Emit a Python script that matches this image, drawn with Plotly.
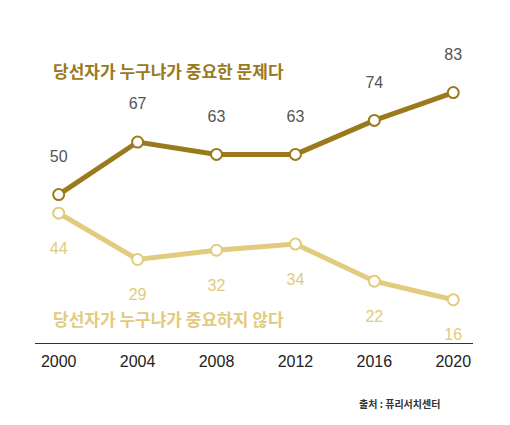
import plotly.graph_objects as go

years = [2000, 2004, 2008, 2012, 2016, 2020]
matters = [50, 67, 63, 63, 74, 83]
not_matters = [44, 29, 32, 34, 22, 16]

dark = "#9a7a1c"
light = "#e2cb7c"
font = "Noto Sans CJK KR"
numfont = "Liberation Sans"

fig = go.Figure()
fig.add_trace(go.Scatter(
    x=years, y=not_matters, mode="lines+markers+text",
    line=dict(color=light, width=5),
    marker=dict(size=11, color="white", line=dict(color=light, width=2)),
    text=["<br>" + str(v) for v in not_matters], textposition="bottom center",
    textfont=dict(color=light, size=16, family=numfont), cliponaxis=False))
fig.add_trace(go.Scatter(
    x=years, y=matters, mode="lines+markers+text",
    line=dict(color=dark, width=5),
    marker=dict(size=11, color="white", line=dict(color=dark, width=2)),
    text=[str(v) + "<br>" for v in matters], textposition="top center",
    textfont=dict(color="#555555", size=16, family=numfont), cliponaxis=False))

fig.add_annotation(x=1999.6, y=90, xanchor="left", yanchor="middle", showarrow=False,
                   text="<b>당선자가 누구냐가 중요한 문제다</b>",
                   font=dict(color=dark, size=17, family=font))
fig.add_annotation(x=1999.6, y=10, xanchor="left", yanchor="middle", showarrow=False,
                   text="<b>당선자가 누구냐가 중요하지 않다</b>",
                   font=dict(color=light, size=17, family=font))
fig.add_annotation(x=0.93, xref="paper", y=-0.2, yref="paper", xanchor="right",
                   yanchor="middle", showarrow=False,
                   text="<b>출처 : 퓨리서치센터</b>",
                   font=dict(color="#333333", size=10, family=font))

fig.update_layout(
    width=510, height=425, showlegend=False,
    paper_bgcolor="white", plot_bgcolor="white",
    margin=dict(l=27, r=45, t=32, b=90),
    xaxis=dict(range=[1998.8, 2021], tickvals=years, showgrid=False, zeroline=False,
               showline=True, linecolor="#333333", linewidth=1,
               ticks="outside", ticklen=4, tickcolor="white",
               tickfont=dict(size=16, color="#222222", family=numfont)),
    yaxis=dict(range=[2, 100], visible=False),
)
fig.write_html("out.html")
